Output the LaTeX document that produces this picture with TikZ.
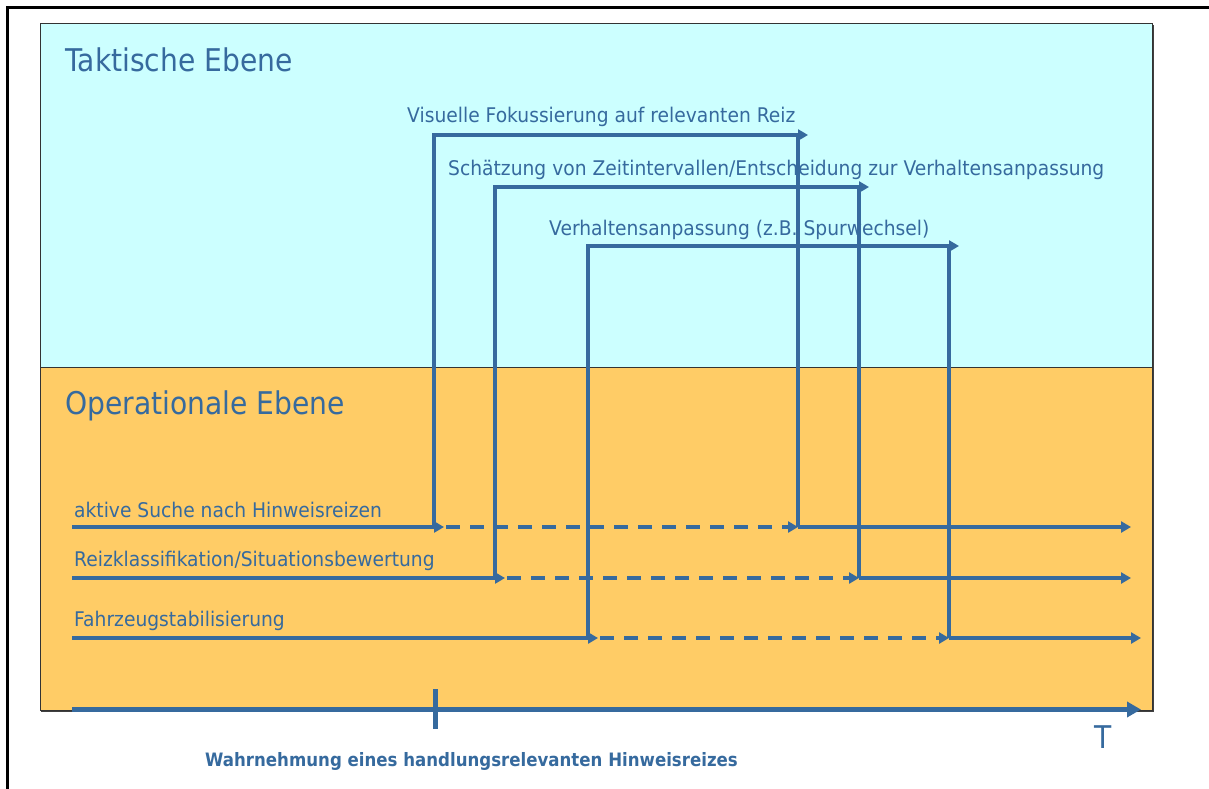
\documentclass[tikz,border=0pt]{standalone}
\usepackage{fontspec}
\setmainfont{DejaVu Sans}[FakeStretch=0.9]
\newfontfamily\labelfont{DejaVu Sans}[FakeStretch=0.925]
\usetikzlibrary{arrows.meta}
\definecolor{tactical}{HTML}{CCFFFF}
\definecolor{operational}{HTML}{FFCC66}
\definecolor{ink}{HTML}{366A9E}

\tikzset{
  levelname/.style={anchor=base west, inner sep=0pt, text=ink,
    font=\fontsize{31.3}{36}\selectfont},
  steplabel/.style={anchor=base west, inner sep=0pt, text=ink,
    font=\labelfont\fontsize{20.2}{24}\selectfont},
  flow/.style={draw=ink, line width=3.6pt, line join=miter,
    -{Triangle[length=10pt,width=11pt]}},
  flowplain/.style={draw=ink, line width=3.6pt},
  waiting/.style={flow, dash pattern=on 14pt off 10pt},
  timeaxis/.style={draw=ink, line width=5pt,
    -{Triangle[length=14pt,width=15pt]}},
}

\begin{document}
\begin{tikzpicture}[x=1pt, y=-1pt]
\useasboundingbox (0,0) rectangle (1209,789);

% outer frame
\draw[line width=2.2pt] (7.5,789) -- (7.5,7.5) -- (1209,7.5);

% the two levels
\fill[tactical] (40,24) rectangle (1152,367);
\fill[operational] (40,367) rectangle (1152,710);
\draw[line width=2pt, black!75] (1152.5,25) -- (1152.5,711) -- (41,711);
\draw[line width=1pt, black!80] (40,24) rectangle (1152,710);
\draw[line width=1pt, black!80] (40,367) -- (1152,367);

\node[levelname] (tac) at (65,72) {Taktische Ebene};
\node[levelname] (ope) at (65,414) {Operationale Ebene};

% tactical steps
\node[steplabel] (l1) at (407,123) {Visuelle Fokussierung auf relevanten Reiz};
\node[steplabel] (l2) at (448,175) {Schätzung von Zeitintervallen/Entscheidung zur Verhaltensanpassung};
\node[steplabel] (l3) at (549,235) {Verhaltensanpassung (z.B. Spurwechsel)};

% operational steps
\node[steplabel] (o1) at (74,517) {aktive Suche nach Hinweisreizen};
\node[steplabel] (o2) at (74,566) {Reizklassifikation/Situationsbewertung};
\node[steplabel] (o3) at (74,626) {Fahrzeugstabilisierung};

% points on the operational lines
\coordinate (s1) at (72,527);    \coordinate (s2) at (72,578);    \coordinate (s3) at (72,638);
\coordinate (a1) at (434,527);   \coordinate (a2) at (495,578);   \coordinate (a3) at (588,638);
\coordinate (a1t) at (444,527);  \coordinate (a2t) at (505,578);  \coordinate (a3t) at (598,638);
\coordinate (b1) at (798,527);   \coordinate (b2) at (859,578);   \coordinate (b3) at (949,638);
\coordinate (e1) at (1131,527);  \coordinate (e2) at (1131,578);  \coordinate (e3) at (1141,638);

% points on the tactical lines
\coordinate (t1) at (434,135);   \coordinate (t2) at (495,187);   \coordinate (t3) at (588,246);
\coordinate (u1) at (798,135);   \coordinate (u2) at (859,187);   \coordinate (u3) at (949,246);
\coordinate (v1) at (808,135);   \coordinate (v2) at (869,187);   \coordinate (v3) at (959,246);

% hand-over between the levels
\foreach \i in {1,2,3} {
  \draw[flow] (a\i) -- (t\i) -- (v\i);
  \draw[flowplain] (u\i) -- (b\i);
}

% operational timelines
\foreach \i in {1,2,3} {
  \draw[flow] (s\i) -- (a\i t);
  \draw[waiting] ([xshift=2pt]a\i t) -- (b\i);
  \draw[flow] (b\i) -- (e\i);
}

% time axis
\coordinate (ax0) at (72,709.5);
\coordinate (ax1) at (1141,709.5);
\coordinate (tk0) at (435,689);
\coordinate (tk1) at (435,729);
\draw[timeaxis] (ax0) -- (ax1);
\draw[draw=ink, line width=5pt] (tk0) -- (tk1);

\node[levelname] (T) at (1094,748) {T};
\node[anchor=base west, inner sep=0pt, text=ink,
  font=\fontsize{18.45}{22}\selectfont\bfseries] (wahr) at (205,766)
  {Wahrnehmung eines handlungsrelevanten Hinweisreizes};
\end{tikzpicture}
\end{document}
